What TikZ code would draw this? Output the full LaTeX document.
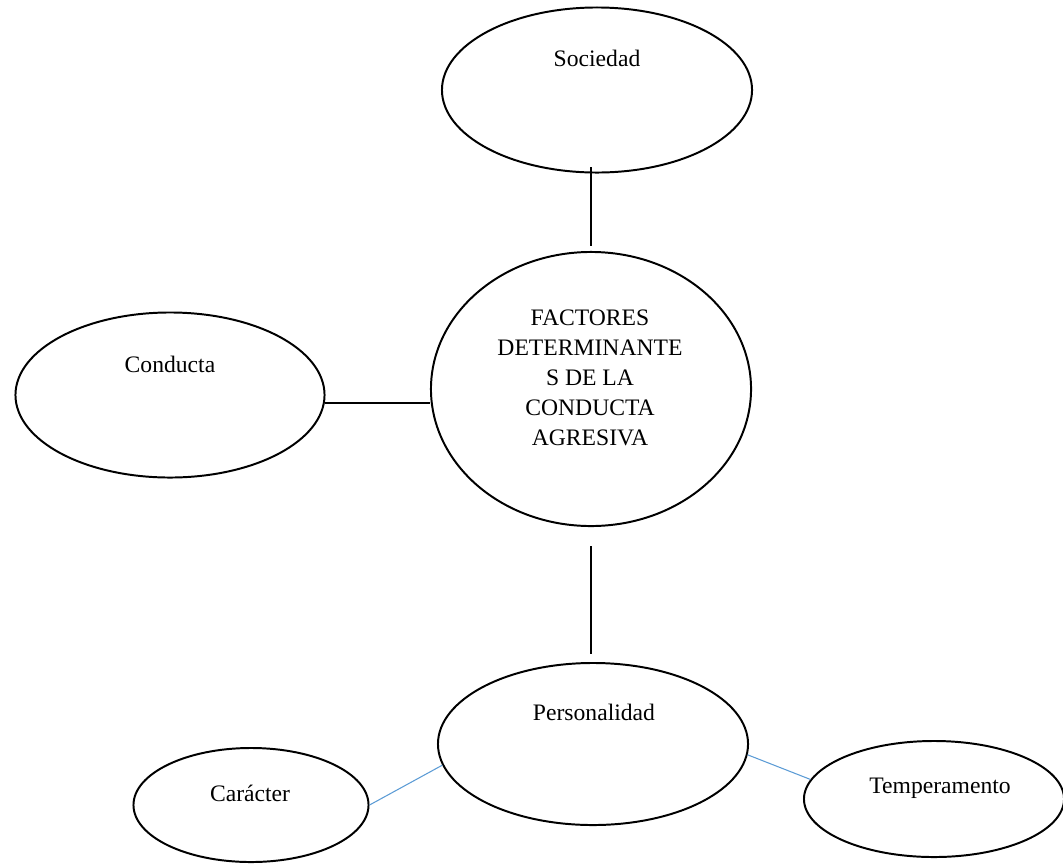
\documentclass[tikz,border=0pt]{standalone}
\usepackage{fontspec}
\setmainfont{Liberation Serif}
\usetikzlibrary{shapes.geometric}

\tikzset{
  blob/.style={draw, ellipse, line width=1.4pt, inner sep=0pt},
  word/.style={font=\fontsize{16.8}{21.3}\selectfont, inner sep=0pt, anchor=base},
  link/.style={line width=1.4pt},
  twig/.style={line width=0.75pt, draw={rgb,255:red,91;green,155;blue,213}},
}

\begin{document}
\begin{tikzpicture}[x=0.025cm, y=-0.025cm]
\useasboundingbox (0,0) rectangle (1063,863);

\node[blob, minimum width=8cm,     minimum height=6.85cm]  (fac) at (591,389) {};
\node[blob, minimum width=7.75cm,  minimum height=4.125cm] (soc) at (597,90)  {};
\node[blob, minimum width=7.725cm, minimum height=4.125cm] (con) at (170,395) {};
\node[blob, minimum width=7.75cm,  minimum height=4.05cm]  (per) at (593,744) {};
\node[blob, minimum width=5.875cm, minimum height=2.85cm]  (car) at (251,805) {};
\node[blob, minimum width=6.5cm,   minimum height=2.9cm]   (tem) at (934,799) {};

%%%%%%%%%%%%%%%%%%%%%%%%%%%%%%%%%%%%%%%%

\node[word] (socw) at (597,66)  {Sociedad};
\node[word] (conw) at (170,372) {Conducta};
\node[word] (perw) at (594,720) {Personalidad};
\node[word] (carw) at (250,801) {Carácter};
\node[word] (temw) at (940,793) {Temperamento};
\node[word, anchor=center, align=center] (facw) at (590,378)
  {FACTORES\\DETERMINANTE\\S DE LA\\CONDUCTA\\AGRESIVA};

%%%%%%%%%%%%%%%%%%%%%%%%%%%%%%%%%%%%%%%%

\draw[link, shorten <=0.125cm, shorten >=-0.175cm] (fac.north) -- (fac.north |- soc.south);
\draw[link] (con.-3.3) -- (fac.west |- con.-3.3);
\draw[link, shorten <=0.475cm, shorten >=0.2cm] (fac.south) -- (fac.south |- per.north);
\draw[twig] (car.east) -- (per.188.7);
\draw[twig] (per.356) -- (tem.171);

\end{tikzpicture}
\end{document}
